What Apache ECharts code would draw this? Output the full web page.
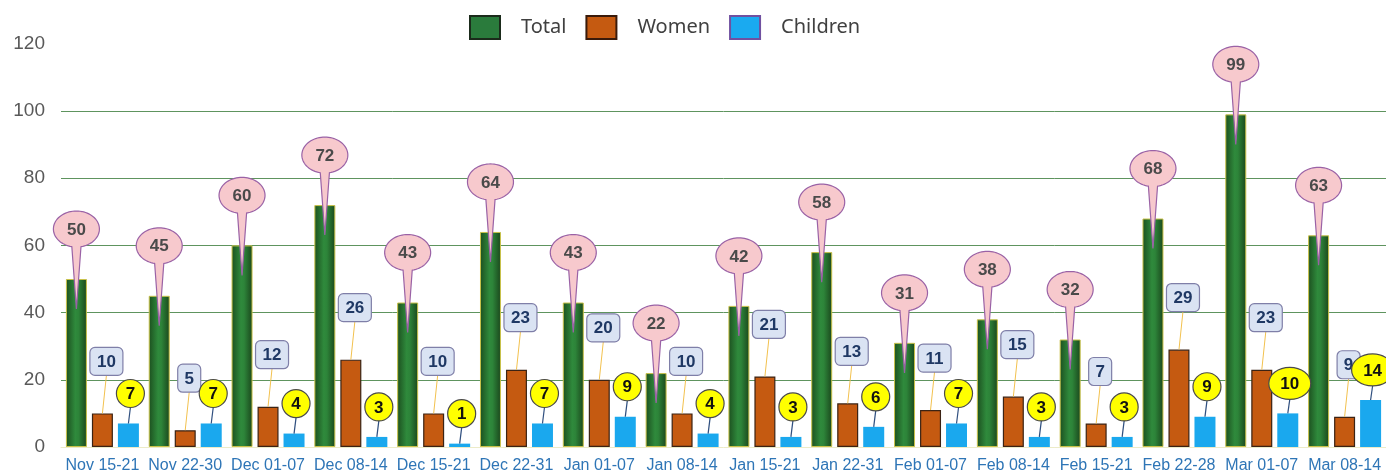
<!DOCTYPE html>
<html><head><meta charset="utf-8">
<script src="https://cdn.jsdelivr.net/npm/echarts@6/dist/echarts.min.js"></script>
<style>html,body{margin:0;padding:0;background:#fff}#c{width:1386px;height:474px}</style>
</head><body><div id="c"></div>
<script>
const categories = ['Nov 15-21','Nov 22-30','Dec 01-07','Dec 08-14','Dec 15-21','Dec 22-31','Jan 01-07','Jan 08-14','Jan 15-21','Jan 22-31','Feb 01-07','Feb 08-14','Feb 15-21','Feb 22-28','Mar 01-07','Mar 08-14'];
const total = [50,45,60,72,43,64,43,22,42,58,31,38,32,68,99,63];
const women = [10,5,12,26,10,23,20,10,21,13,11,15,7,29,23,9];
const children = [7,7,4,3,1,7,9,4,3,6,7,3,3,9,10,14];
const seriesNames = ['Total','Women','Children'];

const BW = 21, GAP = 5;
const OFF = [-(BW + GAP), 0, BW + GAP];
const FONT = 'bold 17px "Liberation Sans", Arial, sans-serif';

function txt(t, x, y, fill) {
  return {type:'text', style:{text:t, x:x, y:y, font:FONT, fill:fill, textFill:fill,
    align:'center', verticalAlign:'middle', textAlign:'center', textVerticalAlign:'middle'}};
}

function balloon(params, api) {
  const v = api.value(1);
  const p = api.coord([api.value(0), v]);
  const bx = p[0] + OFF[0], top = p[1];
  const cx = bx, cy = top - 50, rx = 23, ry = 18;
  const d = 0.2, N = 72, pts = [];
  for (let k = 0; k <= N; k++) {
    const a = Math.PI / 2 + d + (2 * Math.PI - 2 * d) * k / N;
    pts.push([cx + rx * Math.cos(a), cy + ry * Math.sin(a)]);
  }
  pts.push([bx, top + 30]);
  return {type:'group', children:[
    {type:'polygon', shape:{points:pts}, style:{fill:'#f7c9cd', stroke:'#9a62a6', lineWidth:1.2}},
    txt(String(v), cx, cy + 1, '#4a4a4a')
  ]};
}

function boxLabel(params, api) {
  const v = api.value(1);
  const p = api.coord([api.value(0), v]);
  const bx = p[0] + OFF[1], top = p[1];
  const w = String(v).length > 1 ? 33 : 23, h = 28;
  const lx = bx + 4, ly = top - 52;
  return {type:'group', children:[
    {type:'line', shape:{x1:lx, y1:ly + h / 2, x2:bx, y2:top}, style:{stroke:'#f2c14e', lineWidth:1}},
    {type:'rect', shape:{x:lx - w / 2, y:ly - h / 2, width:w, height:h, r:5}, style:{fill:'#dae3f3', stroke:'#7f7fa8', lineWidth:1.2}},
    txt(String(v), lx, ly + 1, '#1f3864')
  ]};
}

function circleLabel(params, api) {
  const v = api.value(1);
  const p = api.coord([api.value(0), v]);
  const bx = p[0] + OFF[2], top = p[1];
  const two = String(v).length > 1;
  const rx = two ? 21 : 14, ry = two ? 16 : 14;
  const cx = bx + 2, cy = top - 30;
  return {type:'group', children:[
    {type:'line', shape:{x1:cx, y1:cy + ry, x2:bx, y2:top}, style:{stroke:'#2f4f7f', lineWidth:1.2}},
    {type:'ellipse', shape:{cx:cx, cy:cy, rx:rx, ry:ry}, style:{fill:'#ffff00', stroke:'#4a4a4a', lineWidth:1.2}},
    txt(String(v), cx, cy + 1, '#111111')
  ]};
}

const pairs = arr => arr.map((v, i) => [i, v]);

const chart = echarts.init(document.getElementById('c'), null, {renderer:'canvas'});
chart.setOption({
  animation:false,
  legend:{
    top:10, left:464, icon:'rect', itemWidth:30, itemHeight:23, itemGap:19,
    textStyle:{fontFamily:'"Noto Sans", sans-serif', fontSize:20, color:'#404040', padding:[0,0,0,16]},
    data:[
      {name:seriesNames[0], itemStyle:{color:'#2a7b3c', borderColor:'#1b2b1b', borderWidth:2}},
      {name:seriesNames[1], itemStyle:{color:'#c55a11', borderColor:'#3a1a0a', borderWidth:2}},
      {name:seriesNames[2], itemStyle:{color:'#1aaaf0', borderColor:'#7050a0', borderWidth:2}}
    ]
  },
  grid:{left:61, right:0, top:43.8, bottom:27},
  xAxis:{type:'category', data:categories, axisTick:{show:false},
    axisLine:{show:true, lineStyle:{color:'#ecebc8'}},
    axisLabel:{interval:0, color:'#2e75b6', fontSize:16, fontFamily:'"Liberation Sans", Arial', margin:11}},
  yAxis:{type:'value', min:0, max:120, interval:20,
    axisLabel:{color:'#595959', fontSize:19, margin:16, fontFamily:'"Liberation Sans", Arial'},
    axisLine:{show:false}, axisTick:{show:false},
    splitLine:{show:true, showMinLine:false, showMaxLine:false, lineStyle:{color:'#5e945e', width:1}}},
  series:[
    {name:seriesNames[0], type:'bar', data:total, barWidth:BW, barGap:(GAP / BW * 100) + '%',
      itemStyle:{borderColor:'#c9c24a', borderWidth:1,
        color:new echarts.graphic.LinearGradient(0,0,1,0,[
          {offset:0, color:'#1c4f1f'},{offset:0.45, color:'#2f8a3c'},{offset:0.6, color:'#2d8439'},{offset:1, color:'#1a461c'}])}},
    {name:seriesNames[1], type:'bar', data:women, barWidth:BW, barGap:(GAP / BW * 100) + '%',
      itemStyle:{color:'#c55a11', borderColor:'#3b2314', borderWidth:1.2}},
    {name:seriesNames[2], type:'bar', data:children, barWidth:BW, barGap:(GAP / BW * 100) + '%',
      itemStyle:{color:'#1aa8ee'}},
    {type:'custom', coordinateSystem:'cartesian2d', data:pairs(total), encode:{x:0, y:1}, renderItem:balloon, z:10, silent:true},
    {type:'custom', coordinateSystem:'cartesian2d', data:pairs(women), encode:{x:0, y:1}, renderItem:boxLabel, z:10, silent:true},
    {type:'custom', coordinateSystem:'cartesian2d', data:pairs(children), encode:{x:0, y:1}, renderItem:circleLabel, z:10, silent:true}
  ]
});
</script>
</body></html>
